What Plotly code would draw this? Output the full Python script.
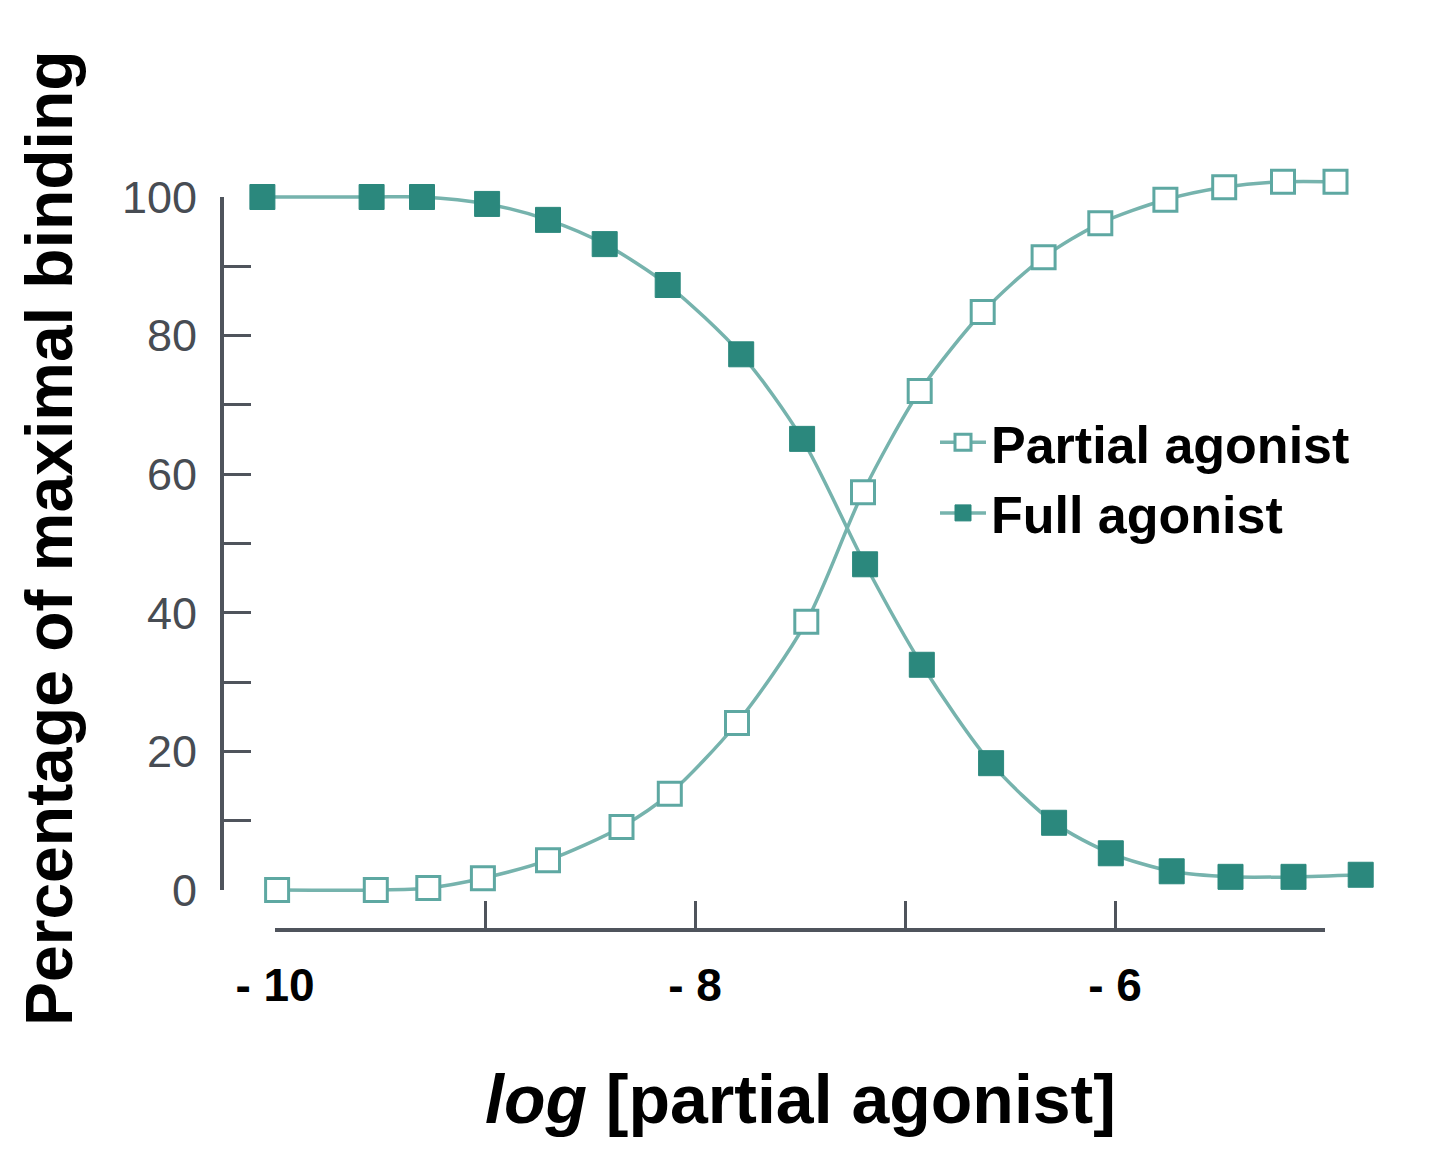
import plotly.graph_objects as go

# ---- data ----
partial_log = [-9.99, -9.52, -9.27, -9.01, -8.70, -8.35, -8.12, -7.80, -7.47,
               -7.20, -6.93, -6.63, -6.34, -6.07, -5.76, -5.48, -5.20, -4.95]
partial_pct = [0.0, 0.0, 0.3, 1.7, 4.3, 9.1, 13.9, 24.1, 38.7,
               57.4, 72.0, 83.4, 91.3, 96.2, 99.6, 101.4, 102.2, 102.2]

full_log = [-10.06, -9.54, -9.30, -8.99, -8.70, -8.43, -8.13, -7.78, -7.49,
            -7.19, -6.92, -6.59, -6.29, -6.02, -5.73, -5.45, -5.15, -4.83]
full_pct = [100.0, 100.0, 100.0, 99.0, 96.7, 93.2, 87.3, 77.3, 65.1,
            47.0, 32.5, 18.3, 9.7, 5.3, 2.7, 1.9, 1.9, 2.2]

x_tickvals = [-10, -9, -8, -7, -6, -5]
x_ticktext = ["- 10", "", "- 8", "", "- 6", ""]
y_tickvals = [0, 10, 20, 30, 40, 50, 60, 70, 80, 90, 100]
y_ticktext = ["0", "", "20", "", "40", "", "60", "", "80", "", "100"]

# ---- geometry ----
W, H = 1440, 1160
OFF = 8  # page body margin
ML, MR, MT, MB = 192, 48, 52, 228
PW, PH = W - ML - MR, H - MT - MB

# target screen pixels of the display axes
PX_XMIN, PX_XMAX = 275 - OFF, 1325 - OFF     # x = -10 .. -5
PY_Y0, PY_Y100 = 890 - OFF, 197 - OFF        # y = 0 .. 100

XD = [-10, -5]
YD = [0, 100]

# data axes ranges spanning the whole plot area, matched to display axes
xs = (XD[1] - XD[0]) / (PX_XMAX - PX_XMIN)
XR = [XD[0] - (PX_XMIN - ML) * xs, XD[0] + (ML + PW - PX_XMIN) * xs]
ys = (YD[1] - YD[0]) / (PY_Y0 - PY_Y100)
YR = [YD[0] - (MT + PH - PY_Y0) * ys, YD[0] + (PY_Y0 - MT) * ys]


def frac(v, r):
    return (v - r[0]) / (r[1] - r[0])


xdom2 = [frac(XD[0], XR), frac(XD[1], XR)]
ydom2 = [frac(YD[0], YR), frac(YD[1], YR)]
x_line_pos = (MT + PH - (930 - OFF)) / PH
y_line_pos = ((222 - OFF) - ML) / PW

TEAL = "#2b887d"
LINE = "#76b3ad"
OPEN = "#5ea8a2"
AXIS = "#4f545c"
FONT = "Liberation Sans, Arial, sans-serif"

fig = go.Figure()

# invisible trace to instantiate the display axes (drawn first, underneath)
fig.add_trace(go.Scatter(
    x=[XD[0], XD[1]], y=[YD[0], YD[1]], mode="markers",
    marker=dict(opacity=0), showlegend=False, hoverinfo="skip",
    xaxis="x2", yaxis="y2",
))
fig.add_trace(go.Scatter(
    x=partial_log, y=partial_pct, name="Partial agonist",
    mode="lines+markers",
    line=dict(color=LINE, width=3.5, shape="spline", smoothing=0.8),
    marker=dict(symbol="square", size=23, color="white",
                line=dict(color=OPEN, width=3)),
    xaxis="x", yaxis="y",
))
fig.add_trace(go.Scatter(
    x=full_log, y=full_pct, name="Full agonist",
    mode="lines+markers",
    line=dict(color=LINE, width=3.5, shape="spline", smoothing=0.8),
    marker=dict(symbol="square", size=25, color=TEAL,
                line=dict(color=TEAL, width=1)),
    xaxis="x", yaxis="y",
))

fig.update_layout(
    width=W, height=H,
    margin=dict(l=ML, r=MR, t=MT, b=MB),
    paper_bgcolor="white", plot_bgcolor="rgba(0,0,0,0)",
    font=dict(family=FONT, color="black"),
    xaxis=dict(range=XR, domain=[0, 1], anchor="y", visible=False, fixedrange=True),
    yaxis=dict(range=YR, domain=[0, 1], anchor="x", visible=False, fixedrange=True),
    xaxis2=dict(
        range=XD, domain=xdom2, anchor="free", position=x_line_pos,
        showline=True, linecolor=AXIS, linewidth=4,
        ticks="inside", ticklen=27, tickwidth=3, tickcolor=AXIS,
        tickvals=x_tickvals, ticktext=x_ticktext,
        tickfont=dict(size=46, color="black", family=FONT, weight="bold"),
        ticklabelstandoff=14,
        showgrid=False, zeroline=False, fixedrange=True,
    ),
    yaxis2=dict(
        range=YD, domain=ydom2, anchor="free", position=y_line_pos,
        showline=True, linecolor=AXIS, linewidth=4,
        ticks="inside", ticklen=27, tickwidth=3, tickcolor=AXIS,
        tickvals=y_tickvals, ticktext=y_ticktext,
        tickfont=dict(size=45, color="#474c53", family=FONT),
        ticklabelstandoff=14,
        showgrid=False, zeroline=False, fixedrange=True,
    ),
    legend=dict(
        x=((935 - OFF) - ML) / PW, y=(MT + PH - (402 - OFF)) / PH,
        xanchor="left", yanchor="top",
        font=dict(size=52, color="black", family=FONT, weight="bold"),
        bgcolor="rgba(0,0,0,0)", itemwidth=46,
        tracegroupgap=0,
    ),
    annotations=[
        dict(text="<i>log</i> [partial agonist]", xref="paper", yref="paper",
             x=((800 - OFF) - ML) / PW, y=(MT + PH - (1099 - OFF)) / PH,
             xanchor="center", yanchor="middle", showarrow=False,
             font=dict(size=68, color="black", family=FONT, weight="bold")),
        dict(text="Percentage of maximal binding", xref="paper", yref="paper",
             x=((49 - OFF) - ML) / PW, y=(MT + PH - (538 - OFF)) / PH,
             textangle=-90,
             xanchor="center", yanchor="middle", showarrow=False,
             font=dict(size=66, color="black", family=FONT, weight="bold")),
    ],
)

fig.write_html("out.html")
